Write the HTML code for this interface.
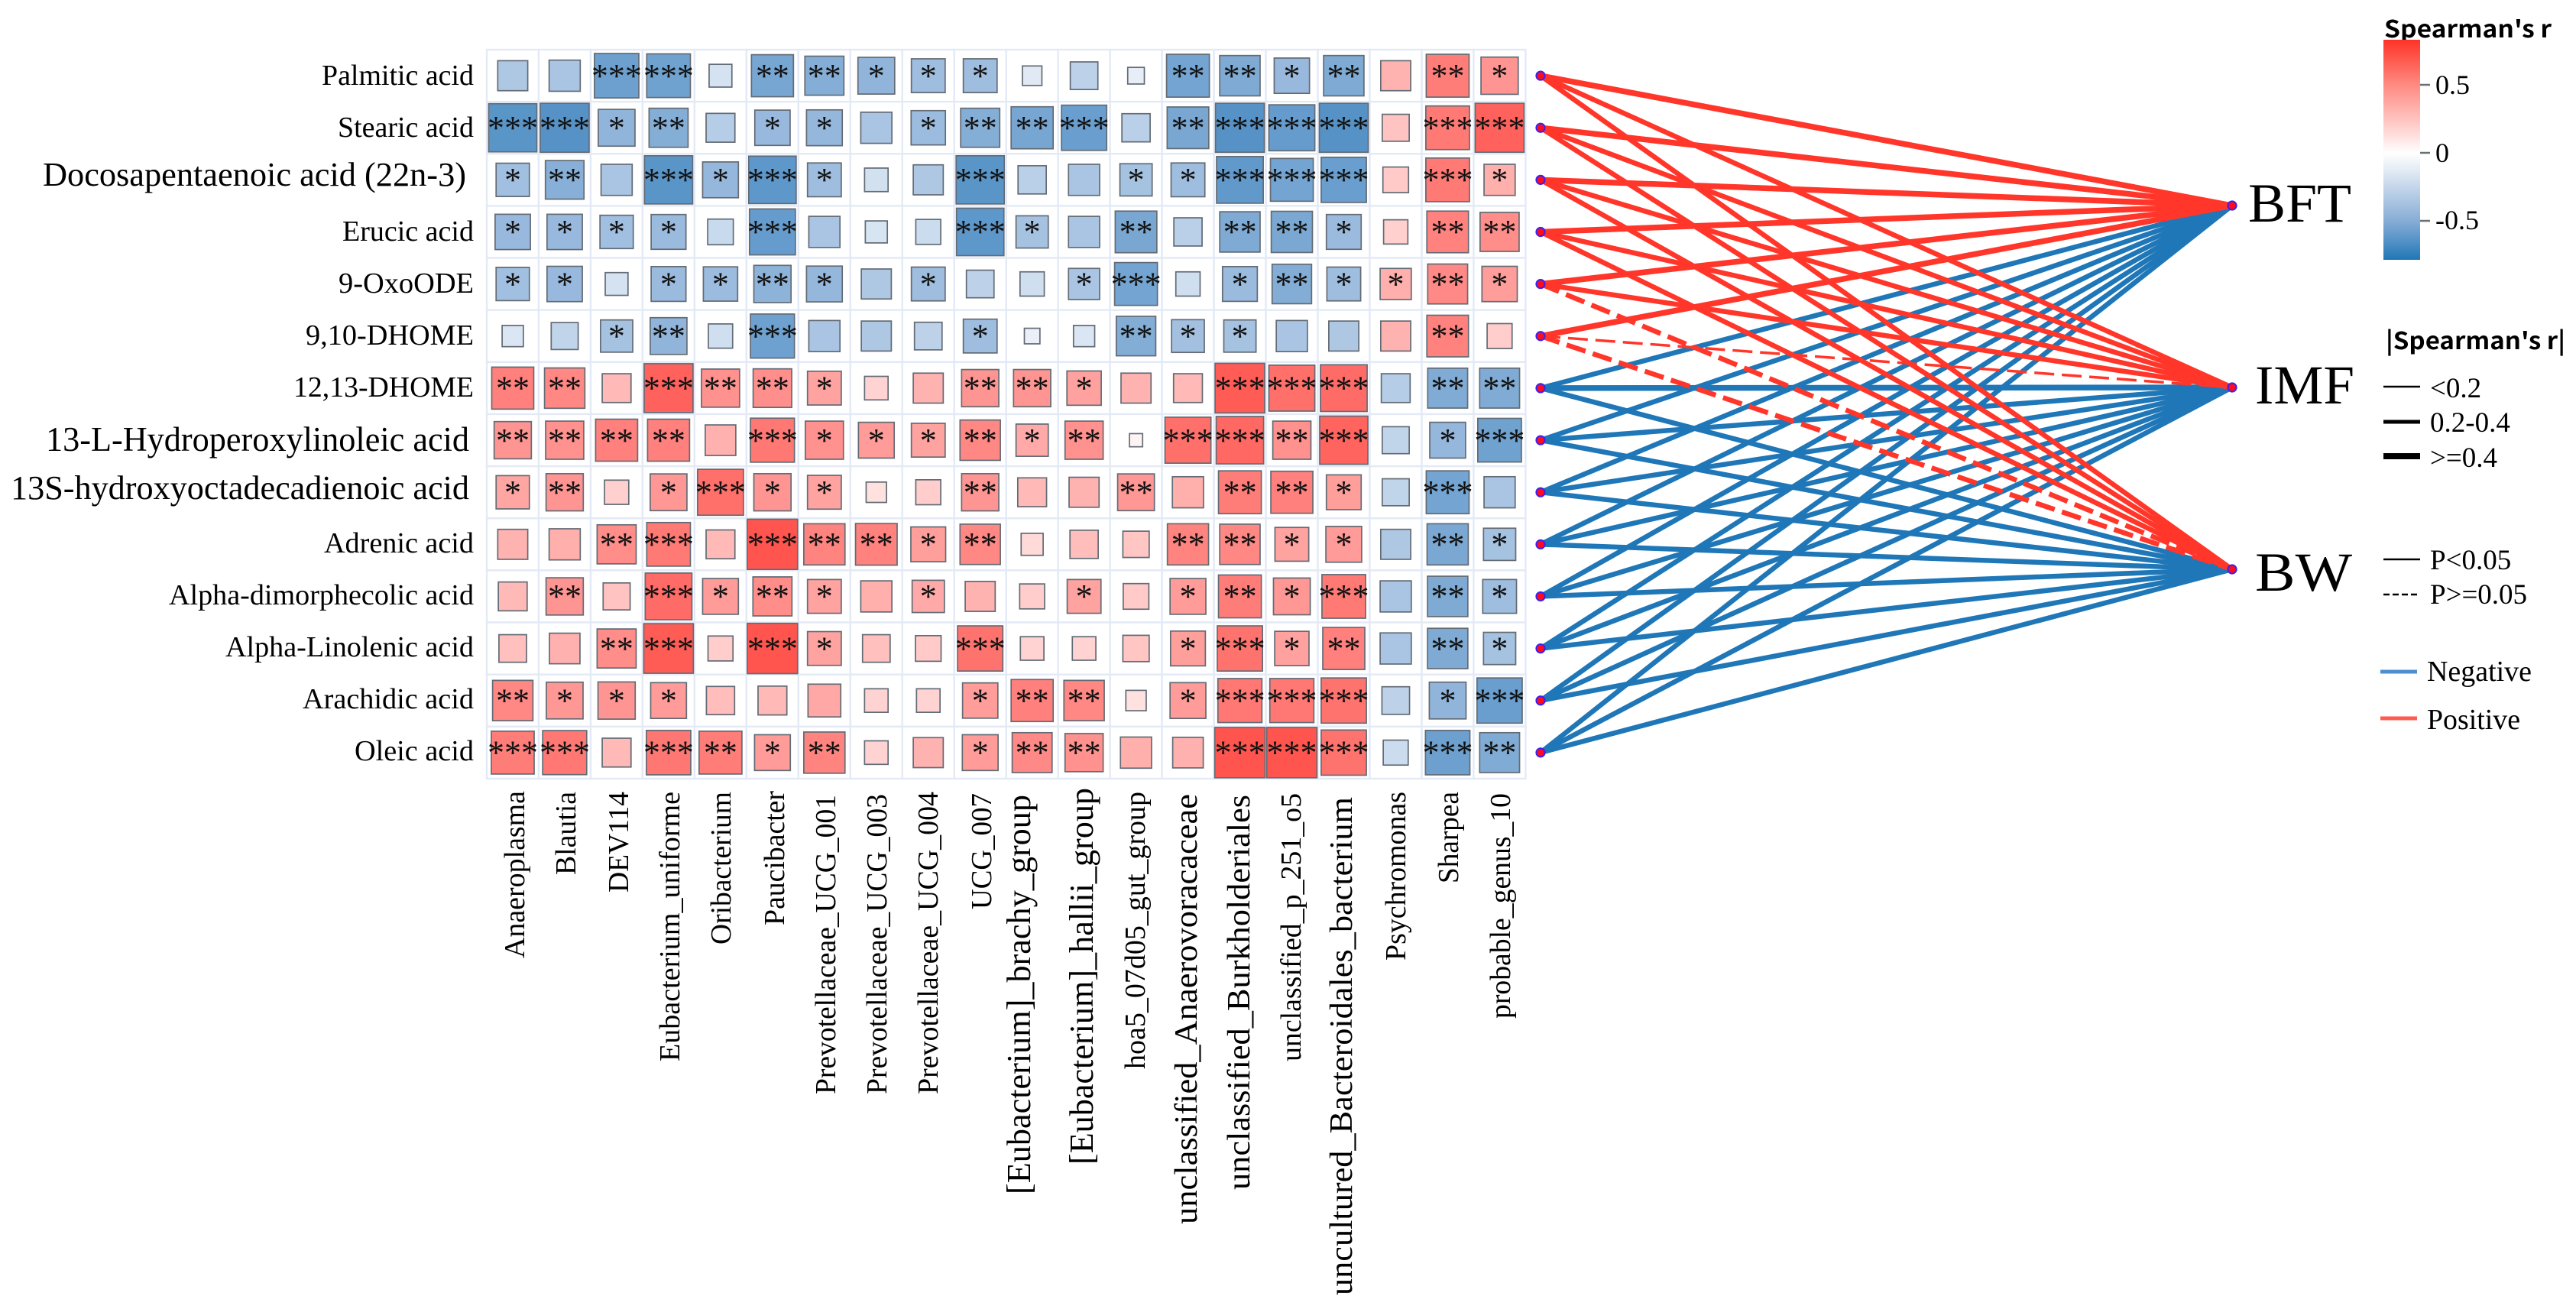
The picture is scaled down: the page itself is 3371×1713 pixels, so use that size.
<!DOCTYPE html>
<html lang="en">
<head>
<meta charset="utf-8">
<title>Spearman correlation heatmap and metabolite–trait links</title>
<style>
html,body{margin:0;padding:0;background:#fff;}
svg{display:block;}
.serif{font-family:"Liberation Serif","Noto Serif CJK SC",serif;fill:#000;}
.sans{font-family:"Noto Sans CJK SC","Liberation Sans",sans-serif;font-weight:700;fill:#000;}
</style>
</head>
<body>
<svg id="chart" xmlns="http://www.w3.org/2000/svg" width="3371" height="1713" viewBox="0 0 3371 1713">
<defs>
<linearGradient id="cbGrad" x1="0" y1="0" x2="0" y2="1">
<stop offset="0" stop-color="#ff3328"/>
<stop offset="0.1" stop-color="#ff5d52"/>
<stop offset="0.205" stop-color="#ff8a82"/>
<stop offset="0.36" stop-color="#ffc2be"/>
<stop offset="0.47" stop-color="#ffecec"/>
<stop offset="0.514" stop-color="#ffffff"/>
<stop offset="0.6" stop-color="#e0e9f3"/>
<stop offset="0.668" stop-color="#c5d6ea"/>
<stop offset="0.82" stop-color="#88aed6"/>
<stop offset="0.92" stop-color="#5090c6"/>
<stop offset="1" stop-color="#1f77b4"/>
</linearGradient>
</defs>
<rect x="0" y="0" width="3371" height="1713" fill="#fff"/>

<g id="gridLayer"></g>
<g id="edgeLayer"></g>
<g id="squareLayer"></g>
<g id="nodeLayer"></g>

<g class="serif" font-size="38">
<text x="421" y="111" textLength="199" lengthAdjust="spacingAndGlyphs">Palmitic acid</text>
<text x="442" y="179" textLength="178" lengthAdjust="spacingAndGlyphs">Stearic acid</text>
<text x="56" y="243" font-size="44" textLength="554" lengthAdjust="spacingAndGlyphs">Docosapentaenoic acid (22n-3)</text>
<text x="448" y="315" textLength="172" lengthAdjust="spacingAndGlyphs">Erucic acid</text>
<text x="443" y="383" textLength="177" lengthAdjust="spacingAndGlyphs">9-OxoODE</text>
<text x="400" y="451" textLength="220" lengthAdjust="spacingAndGlyphs">9,10-DHOME</text>
<text x="384" y="519" textLength="236" lengthAdjust="spacingAndGlyphs">12,13-DHOME</text>
<text x="60" y="590" font-size="45" textLength="554" lengthAdjust="spacingAndGlyphs">13-L-Hydroperoxylinoleic acid</text>
<text x="14" y="653" font-size="44" textLength="600" lengthAdjust="spacingAndGlyphs">13S-hydroxyoctadecadienoic acid</text>
<text x="424" y="723" textLength="196" lengthAdjust="spacingAndGlyphs">Adrenic acid</text>
<text x="221" y="791" textLength="399" lengthAdjust="spacingAndGlyphs">Alpha-dimorphecolic acid</text>
<text x="295" y="859" textLength="325" lengthAdjust="spacingAndGlyphs">Alpha-Linolenic acid</text>
<text x="396" y="927" textLength="224" lengthAdjust="spacingAndGlyphs">Arachidic acid</text>
<text x="464" y="995" textLength="156" lengthAdjust="spacingAndGlyphs">Oleic acid</text>
</g>

<g class="serif" font-size="38">
<text transform="translate(686 1254) rotate(-90)" textLength="219" lengthAdjust="spacingAndGlyphs">Anaeroplasma</text>
<text transform="translate(753 1145) rotate(-90)" textLength="109" lengthAdjust="spacingAndGlyphs">Blautia</text>
<text transform="translate(822 1168) rotate(-90)" textLength="132" lengthAdjust="spacingAndGlyphs">DEV114</text>
<text transform="translate(889 1389) rotate(-90)" textLength="353" lengthAdjust="spacingAndGlyphs">Eubacterium_uniforme</text>
<text transform="translate(956 1236) rotate(-90)" textLength="200" lengthAdjust="spacingAndGlyphs">Oribacterium</text>
<text transform="translate(1026 1211) rotate(-90)" textLength="176" lengthAdjust="spacingAndGlyphs">Paucibacter</text>
<text transform="translate(1093 1432) rotate(-90)" textLength="392" lengthAdjust="spacingAndGlyphs">Prevotellaceae_UCG_001</text>
<text transform="translate(1160 1432) rotate(-90)" textLength="393" lengthAdjust="spacingAndGlyphs">Prevotellaceae_UCG_003</text>
<text transform="translate(1227 1432) rotate(-90)" textLength="396" lengthAdjust="spacingAndGlyphs">Prevotellaceae_UCG_004</text>
<text transform="translate(1297 1190) rotate(-90)" textLength="152" lengthAdjust="spacingAndGlyphs">UCG_007</text>
<text transform="translate(1348 1563) rotate(-90)" font-size="44" textLength="523" lengthAdjust="spacingAndGlyphs">[Eubacterium]_brachy_group</text>
<text transform="translate(1430 1524) rotate(-90)" font-size="44" textLength="493" lengthAdjust="spacingAndGlyphs">[Eubacterium]_hallii_group</text>
<text transform="translate(1498 1399) rotate(-90)" textLength="363" lengthAdjust="spacingAndGlyphs">hoa5_07d05_gut_group</text>
<text transform="translate(1566 1602) rotate(-90)" font-size="42" textLength="563" lengthAdjust="spacingAndGlyphs">unclassified_Anaerovoracaceae</text>
<text transform="translate(1635 1557) rotate(-90)" font-size="42" textLength="517" lengthAdjust="spacingAndGlyphs">unclassified_Burkholderiales</text>
<text transform="translate(1702 1389) rotate(-90)" textLength="351" lengthAdjust="spacingAndGlyphs">unclassified_p_251_o5</text>
<text transform="translate(1769 1695) rotate(-90)" font-size="42" textLength="652" lengthAdjust="spacingAndGlyphs">uncultured_Bacteroidales_bacterium</text>
<text transform="translate(1839 1257) rotate(-90)" textLength="221" lengthAdjust="spacingAndGlyphs">Psychromonas</text>
<text transform="translate(1908 1156) rotate(-90)" textLength="120" lengthAdjust="spacingAndGlyphs">Sharpea</text>
<text transform="translate(1976 1333) rotate(-90)" textLength="295" lengthAdjust="spacingAndGlyphs">probable_genus_10</text>
</g>

<g class="serif" font-size="72">
<text x="2942" y="290" textLength="135" lengthAdjust="spacingAndGlyphs">BFT</text>
<text x="2951" y="528" textLength="130" lengthAdjust="spacingAndGlyphs">IMF</text>
<text x="2951" y="773" textLength="127" lengthAdjust="spacingAndGlyphs">BW</text>
</g>

<g>
<text class="sans" x="3120" y="49" font-size="31" textLength="219" lengthAdjust="spacingAndGlyphs">Spearman's r</text>
<rect x="3119" y="52" width="48" height="288" fill="url(#cbGrad)"/>
<line x1="3167" x2="3180" y1="111" y2="111" stroke="#6b6f76" stroke-width="2.5"/>
<line x1="3167" x2="3180" y1="200" y2="200" stroke="#6b6f76" stroke-width="2.5"/>
<line x1="3167" x2="3180" y1="289" y2="289" stroke="#6b6f76" stroke-width="2.5"/>
<text class="serif" x="3187" y="123" font-size="36">0.5</text>
<text class="serif" x="3187" y="212" font-size="36">0</text>
<text class="serif" x="3187" y="300" font-size="36">-0.5</text>
</g>

<g>
<text class="sans" x="3122" y="457" font-size="31" textLength="235" lengthAdjust="spacingAndGlyphs">|Spearman's r|</text>
<line x1="3119" x2="3167" y1="506" y2="506" stroke="#000" stroke-width="2.5"/>
<line x1="3119" x2="3167" y1="552" y2="552" stroke="#000" stroke-width="5"/>
<line x1="3119" x2="3167" y1="597" y2="597" stroke="#000" stroke-width="8"/>
<text class="serif" x="3180" y="520" font-size="37">&lt;0.2</text>
<text class="serif" x="3180" y="565" font-size="37">0.2-0.4</text>
<text class="serif" x="3180" y="611" font-size="37">&gt;=0.4</text>
</g>

<g>
<line x1="3119" x2="3167" y1="732" y2="732" stroke="#000" stroke-width="2.5"/>
<line x1="3119" x2="3167" y1="778" y2="778" stroke="#000" stroke-width="2.5" stroke-dasharray="8 4"/>
<text class="serif" x="3180" y="745" font-size="37">P&lt;0.05</text>
<text class="serif" x="3180" y="790" font-size="37">P&gt;=0.05</text>
</g>

<g>
<line x1="3115" x2="3163" y1="879" y2="879" stroke="#4a90d0" stroke-width="5"/>
<line x1="3115" x2="3163" y1="940" y2="940" stroke="#ff5a50" stroke-width="5"/>
<text class="serif" x="3176" y="891" font-size="38" textLength="137" lengthAdjust="spacingAndGlyphs">Negative</text>
<text class="serif" x="3176" y="954" font-size="38" textLength="122" lengthAdjust="spacingAndGlyphs">Positive</text>
</g>
</svg>

<script>
/* Correlation matrix: metabolites (rows) x genera (columns) */
var palmitic = [-.26,-.28,-.57,-.55,-.15,-.51,-.44,-.39,-.33,-.33,-.11,-.22,-.08,-.53,-.47,-.36,-.47,.26,.53,.40];
var stearic = [-.67,-.69,-.39,-.44,-.24,-.36,-.37,-.28,-.34,-.44,-.51,-.59,-.23,-.50,-.69,-.61,-.69,.21,.55,.69];
var docosapentaenoic = [-.32,-.43,-.28,-.67,-.37,-.65,-.33,-.16,-.26,-.67,-.23,-.28,-.30,-.33,-.63,-.53,-.59,.19,.55,.28];
var erucic = [-.36,-.36,-.32,-.35,-.19,-.61,-.28,-.14,-.18,-.65,-.30,-.28,-.50,-.23,-.47,-.49,-.35,.17,.50,.44];
var oxoode = [-.32,-.36,-.15,-.35,-.34,-.40,-.37,-.26,-.33,-.22,-.17,-.28,-.53,-.17,-.35,-.45,-.33,.28,.46,.36];
var dhome910 = [-.13,-.21,-.30,-.39,-.17,-.56,-.28,-.26,-.22,-.33,-.07,-.13,-.45,-.31,-.30,-.28,-.26,.26,.50,.18];
var dhome1213 = [.51,.47,.24,.69,.42,.43,.33,.16,.26,.40,.40,.34,.26,.24,.71,.61,.63,-.24,-.46,-.46];
var hydroperoxy = [.40,.42,.51,.51,.27,.56,.42,.37,.33,.47,.30,.42,.05,.61,.65,.42,.67,-.21,-.37,-.55];
var hydroxyocta = [.32,.40,.17,.39,.61,.40,.33,.12,.18,.40,.24,.26,.39,.28,.53,.51,.35,-.21,-.53,-.28];
var adrenic = [.26,.28,.44,.55,.24,.73,.49,.50,.35,.47,.14,.23,.20,.49,.47,.33,.37,-.26,-.49,-.30];
var alphaDimorph = [.24,.40,.21,.63,.37,.44,.33,.28,.30,.26,.18,.33,.19,.37,.53,.39,.55,-.28,-.47,-.33];
var alphaLinolenic = [.22,.27,.44,.71,.18,.73,.33,.22,.19,.59,.16,.16,.20,.35,.59,.34,.51,-.28,-.47,-.30];
var arachidic = [.47,.39,.40,.37,.23,.24,.31,.16,.16,.36,.51,.47,.12,.37,.56,.56,.59,-.22,-.39,-.59];
var oleic = [.53,.56,.24,.57,.53,.37,.49,.16,.26,.37,.46,.42,.28,.27,.73,.73,.59,-.18,-.57,-.46];
var corrMatrix = [palmitic,stearic,docosapentaenoic,erucic,oxoode,dhome910,dhome1213,hydroperoxy,hydroxyocta,adrenic,alphaDimorph,alphaLinolenic,arachidic,oleic];

/* Significance stars per cell, one string per metabolite, one digit per genus */
var starRows = [
"00330221110002212021",
"33120110122302333033",
"12031310030011333031",
"11110300031020221022",
"11011210100130121121",
"00120300010021100020",
"22032210022100333022",
"22220311121203323013",
"12013110020020221030",
"00230322120002211021",
"02031210100101213021",
"00230310030001312021",
"21110000012201333013",
"33032120012200333032"
];

/* Link data: one value per metabolite for each trait */
var bftR = [.45,.45,.50,.50,.42,.42,-.35,-.35,-.32,-.32,-.30,-.30,-.30,-.30];
var imfR = [.35,.35,.35,.35,.32,.15,-.45,-.35,-.32,-.32,-.30,-.30,-.30,-.30];
var bwR = [.32,.32,.35,.35,.32,.30,-.38,-.35,-.34,-.35,-.35,-.35,-.35,-.33];
var bftP = [.001,.001,.001,.001,.001,.001,.01,.01,.01,.01,.01,.01,.01,.01];
var imfP = [.01,.01,.01,.01,.01,.08,.001,.01,.01,.01,.01,.01,.01,.01];
var bwP = [.01,.01,.01,.01,.07,.06,.01,.01,.01,.01,.01,.01,.01,.01];

var svgNS = 'http://www.w3.org/2000/svg';
function mk(tag, parent, attrs){
  var el = document.createElementNS(svgNS, tag);
  for (var k in attrs) el.setAttribute(k, attrs[k]);
  parent.appendChild(el);
  return el;
}

/* Axis functions */
var gridLeft = 637, gridTop = 65, cellW = 67.97, cellH = 68.14;
function xPos(col){ return gridLeft + (col + 0.5) * cellW; }
function yPos(row){ return gridTop + (row + 0.5) * cellH; }
function sideOf(r){ return 77 * Math.sqrt(Math.abs(r)); }
function traitY(k){ return 269 + 238 * k; }

/* Colour ramps */
var rampAt = [0,.08,.17,.26,.35,.47,.58,.70,.83];
var rampBlue = ['#ffffff','#e8eef7','#cfdfef','#aec8e4','#9abade','#7eaad3','#6b9fcf','#5591c5','#1f77b4'];
var rampRed = ['#ffffff','#ffeeed','#ffd0ce','#ffb3b1','#ff9f9c','#ff8784','#ff7570','#ff5f5a','#ff3328'];
function hexRgb(h){ return [parseInt(h.substr(1,2),16),parseInt(h.substr(3,2),16),parseInt(h.substr(5,2),16)]; }
function colorOf(r){
  var a = Math.min(Math.abs(r), .83), ramp = r < 0 ? rampBlue : rampRed, i = 0;
  while (i < rampAt.length - 2 && a > rampAt[i + 1]) i++;
  var t = (a - rampAt[i]) / (rampAt[i + 1] - rampAt[i]);
  var c0 = hexRgb(ramp[i]), c1 = hexRgb(ramp[i + 1]);
  return 'rgb(' + Math.round(c0[0] + (c1[0] - c0[0]) * t) + ',' + Math.round(c0[1] + (c1[1] - c0[1]) * t) + ',' + Math.round(c0[2] + (c1[2] - c0[2]) * t) + ')';
}

/* Grid and squares */
var gridLayer = document.getElementById('gridLayer');
var squareLayer = document.getElementById('squareLayer');
corrMatrix.forEach(function(rowVals, row){
  rowVals.forEach(function(r, col){
    var cell = mk('rect', gridLayer, {x: xPos(col) - cellW / 2, y: yPos(row) - cellH / 2, width: cellW, height: cellH, fill: '#fff', stroke: '#e3eaf6', 'stroke-width': 2.4});
    
    
    var s = sideOf(r);
    var sq = mk('rect', squareLayer, {x: xPos(col) - s / 2, y: yPos(row) - s / 2, width: s, height: s, fill: colorOf(r), stroke: '#636b75', 'stroke-width': 1.7});
    
    
    var n = +starRows[row].charAt(col);
    if (n > 0) {
      var t = mk('text', squareLayer, {x: xPos(col), y: yPos(row) + 14.7, 'text-anchor': 'middle', 'font-size': 44, 'font-family': '"Liberation Serif",serif', fill: '#111'});
      t.textContent = '***'.slice(0, n);
      
      
    }
  });
});

/* Network links */
var leftNodeX = 2016, rightNodeX = 2921;
var edgeLayer = document.getElementById('edgeLayer');
var traitR = [bftR, imfR, bwR];
var traitP = [bftP, imfP, bwP];
function widthOf(r){ var a = Math.abs(r); return a < .2 ? 3.5 : (a < .4 ? 6.5 : 7.5); }
function drawEdges(wantNegative){
  traitR.forEach(function(vals, k){
    vals.forEach(function(r, row){
      if ((r < 0) !== wantNegative) return;
      var line = mk('line', edgeLayer, {x1: leftNodeX, y1: yPos(row), x2: rightNodeX, y2: traitY(k), stroke: r < 0 ? '#1f77b8' : '#ff3629', 'stroke-width': widthOf(r)});
      if (traitP[k][row] >= .05) line.setAttribute('stroke-dasharray', '26 10');
      
      
    });
  });
}
drawEdges(true);
drawEdges(false);

/* Nodes */
var nodeLayer = document.getElementById('nodeLayer');
corrMatrix.forEach(function(_, row){
  var c = mk('circle', nodeLayer, {cx: leftNodeX, cy: yPos(row), r: 5.6, fill: '#ff0a1e', stroke: '#3a22f0', 'stroke-width': 2});
  
  
});
traitR.forEach(function(_, k){
  var c = mk('circle', nodeLayer, {cx: rightNodeX, cy: traitY(k), r: 5.6, fill: '#ff0a1e', stroke: '#3a22f0', 'stroke-width': 2});
  
  
});
</script>
</body>
</html>
